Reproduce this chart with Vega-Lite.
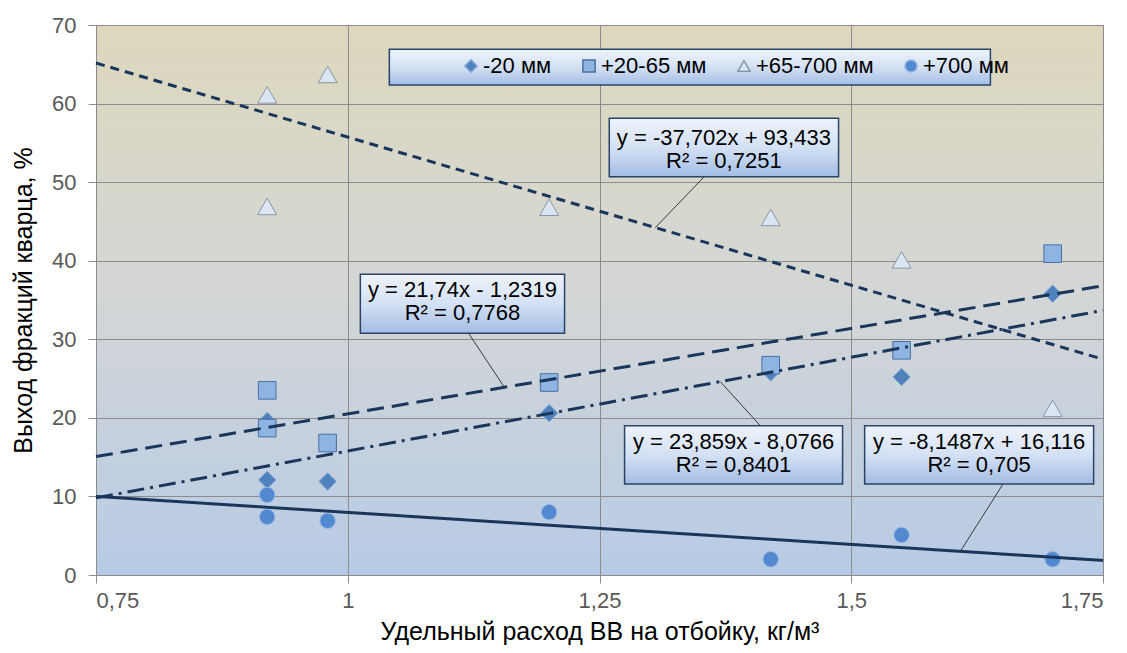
{
  "$schema": "https://vega.github.io/schema/vega-lite/v6.json",
  "width": 1007,
  "height": 550,
  "autosize": {"type": "none"},
  "padding": {"left": 96, "top": 25, "right": 24, "bottom": 78},
  "background": "#ffffff",
  "config": {
    "font": "Liberation Sans",
    "view": {
      "stroke": "#8c8c8c",
      "strokeWidth": 1,
      "fill": {"gradient": "linear", "x1": 0, "y1": 0, "x2": 0, "y2": 1,
        "stops": [{"offset": 0, "color": "#ddd8bd"}, {"offset": 0.5, "color": "#d3d6d6"}, {"offset": 1, "color": "#b7cbe6"}]}
    },
    "axis": {
      "gridColor": "#8c8c8c", "gridOpacity": 1, "gridWidth": 1,
      "tickColor": "#8c8c8c", "tickSize": 8, "domain": false,
      "labelFont": "Liberation Sans", "labelFontSize": 22, "labelColor": "#595959",
      "titleFont": "Liberation Sans", "titleFontSize": 25, "titleFontWeight": "normal", "titleColor": "#000000"
    },
    "legend": {"orient": "none", "legendX": 364, "legendY": 30, "direction": "horizontal",
      "labelFont": "Liberation Sans", "labelFontSize": 22, "labelColor": "#000000", "symbolSize": 150,
      "columnPadding": 26, "labelOffset": 1, "padding": 0, "zindex": 2}
  },
  "datasets": {
    "points": [
      {"series": "-20 мм", "x": 0.92, "y": 19.6},
      {"series": "-20 мм", "x": 0.92, "y": 12.1},
      {"series": "-20 мм", "x": 0.98, "y": 11.9},
      {"series": "-20 мм", "x": 1.2, "y": 20.6},
      {"series": "-20 мм", "x": 1.42, "y": 25.8},
      {"series": "-20 мм", "x": 1.55, "y": 25.2},
      {"series": "-20 мм", "x": 1.7, "y": 35.8},
      {"series": "+20-65 мм", "x": 0.92, "y": 23.5},
      {"series": "+20-65 мм", "x": 0.92, "y": 18.7},
      {"series": "+20-65 мм", "x": 0.98, "y": 16.8},
      {"series": "+20-65 мм", "x": 1.2, "y": 24.5},
      {"series": "+20-65 мм", "x": 1.42, "y": 26.7},
      {"series": "+20-65 мм", "x": 1.55, "y": 28.6},
      {"series": "+20-65 мм", "x": 1.7, "y": 40.9},
      {"series": "+65-700 мм", "x": 0.92, "y": 61.1},
      {"series": "+65-700 мм", "x": 0.92, "y": 46.9},
      {"series": "+65-700 мм", "x": 0.98, "y": 63.7},
      {"series": "+65-700 мм", "x": 1.2, "y": 46.8},
      {"series": "+65-700 мм", "x": 1.42, "y": 45.5},
      {"series": "+65-700 мм", "x": 1.55, "y": 40.1},
      {"series": "+65-700 мм", "x": 1.7, "y": 21.2},
      {"series": "+700 мм", "x": 0.92, "y": 10.2},
      {"series": "+700 мм", "x": 0.92, "y": 7.4},
      {"series": "+700 мм", "x": 0.98, "y": 6.9},
      {"series": "+700 мм", "x": 1.2, "y": 8.0},
      {"series": "+700 мм", "x": 1.42, "y": 2.0},
      {"series": "+700 мм", "x": 1.55, "y": 5.1},
      {"series": "+700 мм", "x": 1.7, "y": 2.0}
    ],
    "trends": [
      {"trend": "Линейная (-20 мм)", "x": 0.75, "y": 9.818},
      {"trend": "Линейная (-20 мм)", "x": 1.75, "y": 33.677},
      {"trend": "Линейная (+20-65 мм)", "x": 0.75, "y": 15.073},
      {"trend": "Линейная (+20-65 мм)", "x": 1.75, "y": 36.813},
      {"trend": "Линейная (+65-700 мм)", "x": 0.75, "y": 65.157},
      {"trend": "Линейная (+65-700 мм)", "x": 1.75, "y": 27.455},
      {"trend": "Линейная (+700 мм)", "x": 0.75, "y": 10.004},
      {"trend": "Линейная (+700 мм)", "x": 1.75, "y": 1.856}
    ],
    "boxes": [
      {"label": "y = -37,702x + 93,433\nR² = 0,7251", "x1": 1.2597, "x2": 1.4874, "y1": 58.13, "y2": 50.69, "cx": 1.3735, "cy": 55.62, "lx1": 1.354, "ly1": 50.69, "lx2": 1.3053, "ly2": 44.2},
      {"label": "y = 21,74x - 1,2319\nR² = 0,7768", "x1": 1.0125, "x2": 1.2153, "y1": 38.27, "y2": 30.76, "cx": 1.1139, "cy": 36.27, "lx1": 1.12, "ly1": 30.76, "lx2": 1.1555, "ly2": 23.9},
      {"label": "y = 23,859x - 8,0766\nR² = 0,8401", "x1": 1.2749, "x2": 1.4914, "y1": 19.0, "y2": 11.58, "cx": 1.3831, "cy": 16.93, "lx1": 1.4097, "ly1": 19.0, "lx2": 1.37, "ly2": 24.6},
      {"label": "y = -8,1487x + 16,116\nR² = 0,705", "x1": 1.5133, "x2": 1.7407, "y1": 19.0, "y2": 11.58, "cx": 1.627, "cy": 16.93, "lx1": 1.6507, "ly1": 11.58, "lx2": 1.6083, "ly2": 3.0}
    ],
    "legendbox": [
      {"x1": 1.0413, "x2": 1.6382, "y1": 66.91, "y2": 62.36}
    ]
  },
  "layer": [
    {
      "data": {"name": "legendbox"},
      "mark": {"type": "rect", "stroke": "#2a4468", "strokeWidth": 1.5,
        "fill": {"gradient": "linear", "x1": 0, "y1": 0, "x2": 0, "y2": 1,
          "stops": [{"offset": 0, "color": "#eef3fb"}, {"offset": 0.5, "color": "#d4e1f4"}, {"offset": 1, "color": "#a3bde4"}]}},
      "encoding": {
        "x": {"field": "x1", "type": "quantitative",
          "scale": {"domain": [0.75, 1.75], "nice": false, "zero": false},
          "axis": {"values": [0.75, 1, 1.25, 1.5, 1.75], "labelExpr": "replace(format(datum.value, '~g'), '.', ',')",
            "labelPadding": 7, "titleBaseline": "middle", "titleY": 56, "grid": true},
          "title": "Удельный расход ВВ на отбойку, кг/м³"},
        "x2": {"field": "x2"},
        "y": {"field": "y1", "type": "quantitative",
          "scale": {"domain": [0, 70], "nice": false, "zero": true},
          "axis": {"values": [0, 10, 20, 30, 40, 50, 60, 70], "labelPadding": 12, "titleBaseline": "middle", "titleX": -73, "grid": true},
          "title": "Выход фракций кварца, %"},
        "y2": {"field": "y2"}
      }
    },
    {
      "data": {"name": "points"},
      "mark": {"type": "point", "filled": true, "opacity": 1, "strokeWidth": 1},
      "encoding": {
        "x": {"field": "x", "type": "quantitative", "title": "Удельный расход ВВ на отбойку, кг/м³"},
        "y": {"field": "y", "type": "quantitative", "title": "Выход фракций кварца, %"},
        "fill": {"field": "series", "type": "nominal",
          "scale": {"domain": ["-20 мм", "+20-65 мм", "+65-700 мм", "+700 мм"], "range": ["#4f81bd", "#8eb4e3", "#dce6f2", "#5289d0"]},
          "legend": {"title": null, "columns": 4}},
        "shape": {"field": "series", "type": "nominal",
          "scale": {"domain": ["-20 мм", "+20-65 мм", "+65-700 мм", "+700 мм"], "range": ["diamond", "square", "triangle-up", "circle"]},
          "legend": {"title": null, "columns": 4}},
        "stroke": {"field": "series", "type": "nominal",
          "scale": {"domain": ["-20 мм", "+20-65 мм", "+65-700 мм", "+700 мм"], "range": ["#7fa3d1", "#4b6fa0", "#8896a8", "#9bb9e3"]},
          "legend": {"title": null, "columns": 4}},
        "size": {"field": "series", "type": "nominal",
          "scale": {"type": "ordinal", "domain": ["+700 мм", "-20 мм", "+20-65 мм", "+65-700 мм"], "range": [240, 300, 310, 360]},
          "legend": null}
      }
    },
    {
      "data": {"name": "trends"},
      "mark": {"type": "line", "color": "#1a365a", "strokeWidth": 3},
      "encoding": {
        "x": {"field": "x", "type": "quantitative", "title": "Удельный расход ВВ на отбойку, кг/м³"},
        "y": {"field": "y", "type": "quantitative", "title": "Выход фракций кварца, %"},
        "strokeDash": {"field": "trend", "type": "nominal",
          "scale": {"domain": ["Линейная (-20 мм)", "Линейная (+20-65 мм)", "Линейная (+65-700 мм)", "Линейная (+700 мм)"], "range": [[17, 6, 3, 6], [17, 8], [9, 6], [1, 0]]},
          "legend": null}
      }
    },
    {
      "data": {"name": "boxes"},
      "mark": {"type": "rule", "color": "#3a3a3a", "strokeWidth": 1},
      "encoding": {
        "x": {"field": "lx1", "type": "quantitative", "title": "Удельный расход ВВ на отбойку, кг/м³"},
        "y": {"field": "ly1", "type": "quantitative", "title": "Выход фракций кварца, %"},
        "x2": {"field": "lx2"},
        "y2": {"field": "ly2"}
      }
    },
    {
      "data": {"name": "boxes"},
      "mark": {"type": "rect", "stroke": "#2a4468", "strokeWidth": 1.5,
        "fill": {"gradient": "linear", "x1": 0, "y1": 0, "x2": 0, "y2": 1,
          "stops": [{"offset": 0, "color": "#eef3fb"}, {"offset": 0.5, "color": "#d4e1f4"}, {"offset": 1, "color": "#a3bde4"}]}},
      "encoding": {
        "x": {"field": "x1", "type": "quantitative", "title": "Удельный расход ВВ на отбойку, кг/м³"},
        "x2": {"field": "x2"},
        "y": {"field": "y1", "type": "quantitative", "title": "Выход фракций кварца, %"},
        "y2": {"field": "y2"}
      }
    },
    {
      "data": {"name": "boxes"},
      "mark": {"type": "text", "fontSize": 22, "font": "Liberation Sans", "lineBreak": "\n", "lineHeight": 23,
        "align": "center", "baseline": "middle", "color": "#000000"},
      "encoding": {
        "x": {"field": "cx", "type": "quantitative", "title": "Удельный расход ВВ на отбойку, кг/м³"},
        "y": {"field": "cy", "type": "quantitative", "title": "Выход фракций кварца, %"},
        "text": {"field": "label"}
      }
    }
  ]
}
